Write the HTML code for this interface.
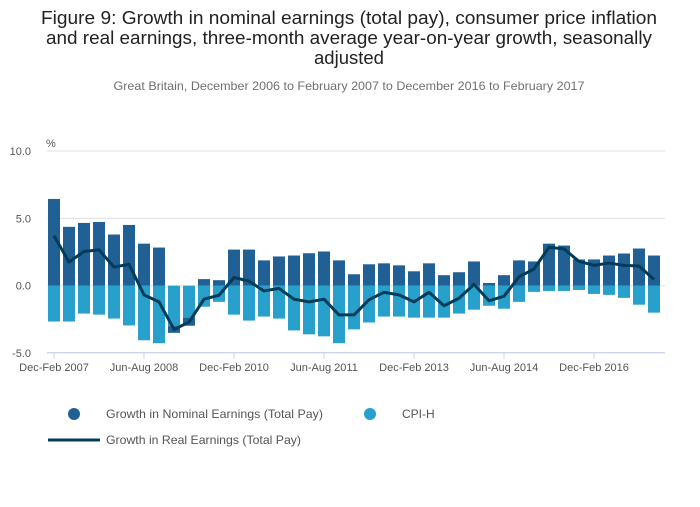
<!DOCTYPE html>
<html><head><meta charset="utf-8"><style>
body{margin:0;background:#fff;font-family:"Liberation Sans",sans-serif;}
svg text{font-family:"Liberation Sans",sans-serif;}
</style></head><body>
<svg id="chart" width="700" height="502" xmlns="http://www.w3.org/2000/svg">
<text x="349" y="24" text-anchor="middle" font-size="18.5" fill="#222" textLength="616" lengthAdjust="spacingAndGlyphs">Figure 9: Growth in nominal earnings (total pay), consumer price inflation</text>
<text x="349" y="44" text-anchor="middle" font-size="18.5" fill="#222" textLength="606" lengthAdjust="spacingAndGlyphs">and real earnings, three-month average year-on-year growth, seasonally</text>
<text x="349" y="64" text-anchor="middle" font-size="18.5" fill="#222">adjusted</text>
<text x="349" y="90" text-anchor="middle" font-size="12" fill="#707070" textLength="471" lengthAdjust="spacingAndGlyphs">Great Britain, December 2006 to February 2007 to December 2016 to February 2017</text>
<text x="46" y="147" font-size="11" fill="#555">%</text>
<g id="grid"></g><g id="bars"></g><g id="line"></g><g id="xaxis"></g>
<g>
<circle cx="74" cy="414" r="6" fill="#206095"/>
<text x="106" y="418" font-size="12" fill="#555" textLength="217" lengthAdjust="spacingAndGlyphs">Growth in Nominal Earnings (Total Pay)</text>
<circle cx="370" cy="414" r="6" fill="#27a0cc"/>
<text x="402" y="418" font-size="12" fill="#555">CPI-H</text>
<line x1="48" y1="440" x2="100" y2="440" stroke="#003c57" stroke-width="3"/>
<text x="106" y="444" font-size="12" fill="#555" textLength="195" lengthAdjust="spacingAndGlyphs">Growth in Real Earnings (Total Pay)</text>
</g>
</svg>
<script>
const nominal=[6.44,4.37,4.66,4.73,3.80,4.51,3.12,2.83,-0.5,-0.6,0.49,0.41,2.68,2.68,1.88,2.17,2.24,2.41,2.54,1.88,0.85,1.59,1.66,1.51,1.07,1.66,0.78,1.0,1.80,0.20,0.78,1.88,1.80,3.12,2.98,1.95,1.95,2.24,2.39,2.76,2.24];
const cpih=[-2.66,-2.66,-2.07,-2.15,-2.44,-2.95,-4.05,-4.27,-3.0,-2.37,-1.56,-1.20,-2.15,-2.59,-2.29,-2.44,-3.32,-3.61,-3.76,-4.27,-3.24,-2.73,-2.29,-2.29,-2.37,-2.37,-2.37,-2.07,-1.78,-1.49,-1.71,-1.20,-0.46,-0.39,-0.39,-0.32,-0.61,-0.68,-0.90,-1.41,-2.0];
const real=[3.71,1.76,2.54,2.66,1.39,1.59,-0.68,-1.20,-3.24,-2.71,-1.0,-0.71,0.61,0.34,-0.39,-0.20,-1.0,-1.20,-1.0,-2.17,-2.17,-1.05,-0.49,-0.68,-1.20,-0.49,-1.49,-0.93,0.10,-1.12,-0.78,0.66,1.24,2.85,2.73,1.80,1.51,1.68,1.51,1.46,0.46];
const yTicks=[10,5,0,-5];
const xTickLabels=["Dec-Feb 2007","Jun-Aug 2008","Dec-Feb 2010","Jun-Aug 2011","Dec-Feb 2013","Jun-Aug 2014","Dec-Feb 2016"];
const xTickIdx=[0,6,12,18,24,30,36];
const NS="http://www.w3.org/2000/svg";
const y=v=>285.7-v*13.47;
const x=i=>54+i*15;
function mk(t,parent,attrs){const e=document.createElementNS(NS,t);for(const k in attrs)e.setAttribute(k,attrs[k]);document.getElementById(parent).appendChild(e);return e;}
yTicks.forEach(v=>{
 const l=mk('line','grid',{x1:47,x2:665,y1:y(v),y2:y(v),stroke:'#e0e0e0','stroke-width':1});
 
 
 const t=mk('text','grid',{x:31,y:y(v)+4,'text-anchor':'end','font-size':11,fill:'#555'});
 t.textContent=v.toFixed(1);
 
 
});
nominal.forEach((n,i)=>{
 const c=cpih[i];
 const r1=mk('rect','bars',{x:x(i)-6,width:12,y:y(0),height:y(c)-y(0),fill:'#27a0cc'});
 
 
 let r2;
 if(n>=0){r2=mk('rect','bars',{x:x(i)-6,width:12,y:y(n),height:y(0)-y(n),fill:'#206095'});}
 else{r2=mk('rect','bars',{x:x(i)-6,width:12,y:y(c),height:y(c+n)-y(c),fill:'#206095'});}
 
 
});
const p=mk('polyline','line',{points:real.map((v,i)=>x(i)+','+y(v)).join(' '),fill:'none',stroke:'#003c57','stroke-width':3,'stroke-linejoin':'round'});


const ax=mk('line','xaxis',{x1:47,x2:665,y1:352.5,y2:352.5,stroke:'#ccd6e8','stroke-width':1});


xTickIdx.forEach((idx,k)=>{
 const tk=mk('line','xaxis',{x1:x(idx),x2:x(idx),y1:352,y2:359,stroke:'#ccd6e8','stroke-width':1});
 
 
 const t=mk('text','xaxis',{x:x(idx),y:371,'text-anchor':'middle','font-size':11,fill:'#555'});
 t.textContent=xTickLabels[k];
 
 
});
</script>
</body></html>
